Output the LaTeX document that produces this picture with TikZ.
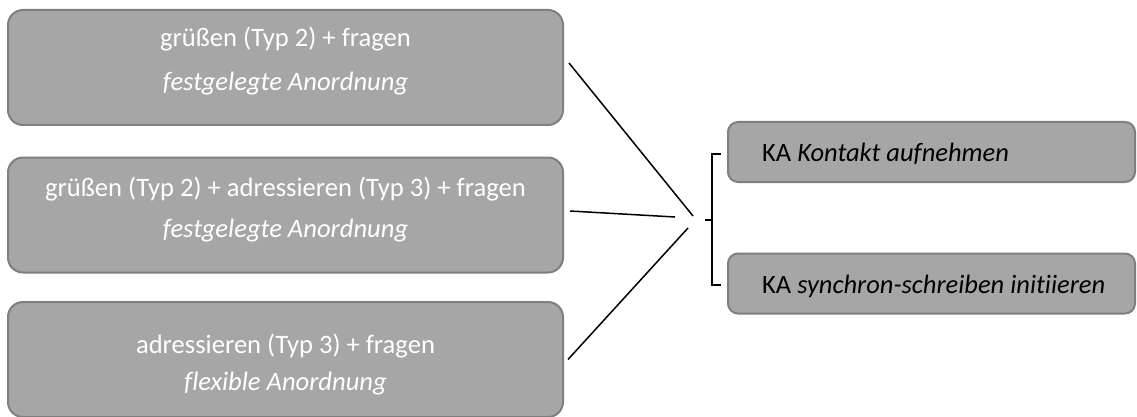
\documentclass[tikz,border=0pt]{standalone}
\usepackage{fontspec}
\setmainfont{Carlito}[Ligatures=NoCommon]
\usetikzlibrary{calc}
\definecolor{boxfill}{HTML}{A6A6A6}
\definecolor{boxline}{HTML}{7F7F7F}
\tikzset{
  variant/.style={draw=boxline, fill=boxfill, line width=2pt, rounded corners=15pt,
    minimum width=555pt, minimum height=115pt, inner sep=0pt},
  actbox/.style={draw=boxline, fill=boxfill, line width=2pt, rounded corners=10pt,
    minimum width=407pt, minimum height=60pt, inner sep=0pt},
  vtext/.style={text=white, font=\fontsize{26.6}{32}\selectfont, inner sep=0pt, anchor=base},
  atext/.style={text=black, font=\fontsize{26.5}{32}\selectfont, inner sep=0pt, anchor=base west},
  link/.style={draw=black, line width=1.5pt},
  brace/.style={draw=black, line width=2pt},
}
\begin{document}
\begin{tikzpicture}[x=1pt, y=-1pt]
  \useasboundingbox (0,0) rectangle (1137,417);

  % left column: the three variants
  \node[variant] (b1) at (285.5,67.5) {};
  \node[variant] (b2) at (285.5,215) {};
  \node[variant] (b3) at (285.5,359.5) {};

  \node[vtext] (b1a) at (285.5,47) {grüßen (Typ 2) + fragen};
  \node[vtext] (b1b) at (285.5,91) {\itshape festgelegte Anordnung};
  \node[vtext] (b2a) at (285.5,196) {grüßen (Typ 2) + adressieren (Typ 3) + fragen};
  \node[vtext] (b2b) at (285.5,237) {\itshape festgelegte Anordnung};
  \node[vtext] (b3a) at (285.5,353) {adressieren (Typ 3) + fragen};
  \node[vtext] (b3b) at (285.5,390) {\itshape flexible Anordnung};

  % right column: the communicative acts
  \node[actbox] (ra) at (931.5,152) {};
  \node[actbox] (rb) at (931.5,283.5) {};
  \node[atext] (rat) at (762,161) {KA \itshape Kontakt aufnehmen};
  \node[atext] (rbt) at (762,293) {KA \itshape synchron-schreiben initiieren};

  % converging lines
  \coordinate (j1) at (693,216);
  \coordinate (j2) at (675,217);
  \coordinate (j3) at (688,228);
  \draw[link] ([xshift=5pt,yshift=4.5pt]b1.east) -- (j1);
  \draw[link] ([xshift=6pt,yshift=4pt]b2.east) -- (j2);
  \draw[link] ([xshift=4pt]b3.east) -- (j3);

  % brace grouping the two acts
  \coordinate (bt) at ([xshift=-6pt,yshift=-2pt]ra.west);
  \coordinate (bb) at ([xshift=-6pt,yshift=-1.5pt]rb.west);
  \draw[brace] (bt) -- ++(-9,0) -- ($(bb)+(-9,0)$) -- (bb);
  \draw[brace] (705,220) -- (713,220);
\end{tikzpicture}
\end{document}
